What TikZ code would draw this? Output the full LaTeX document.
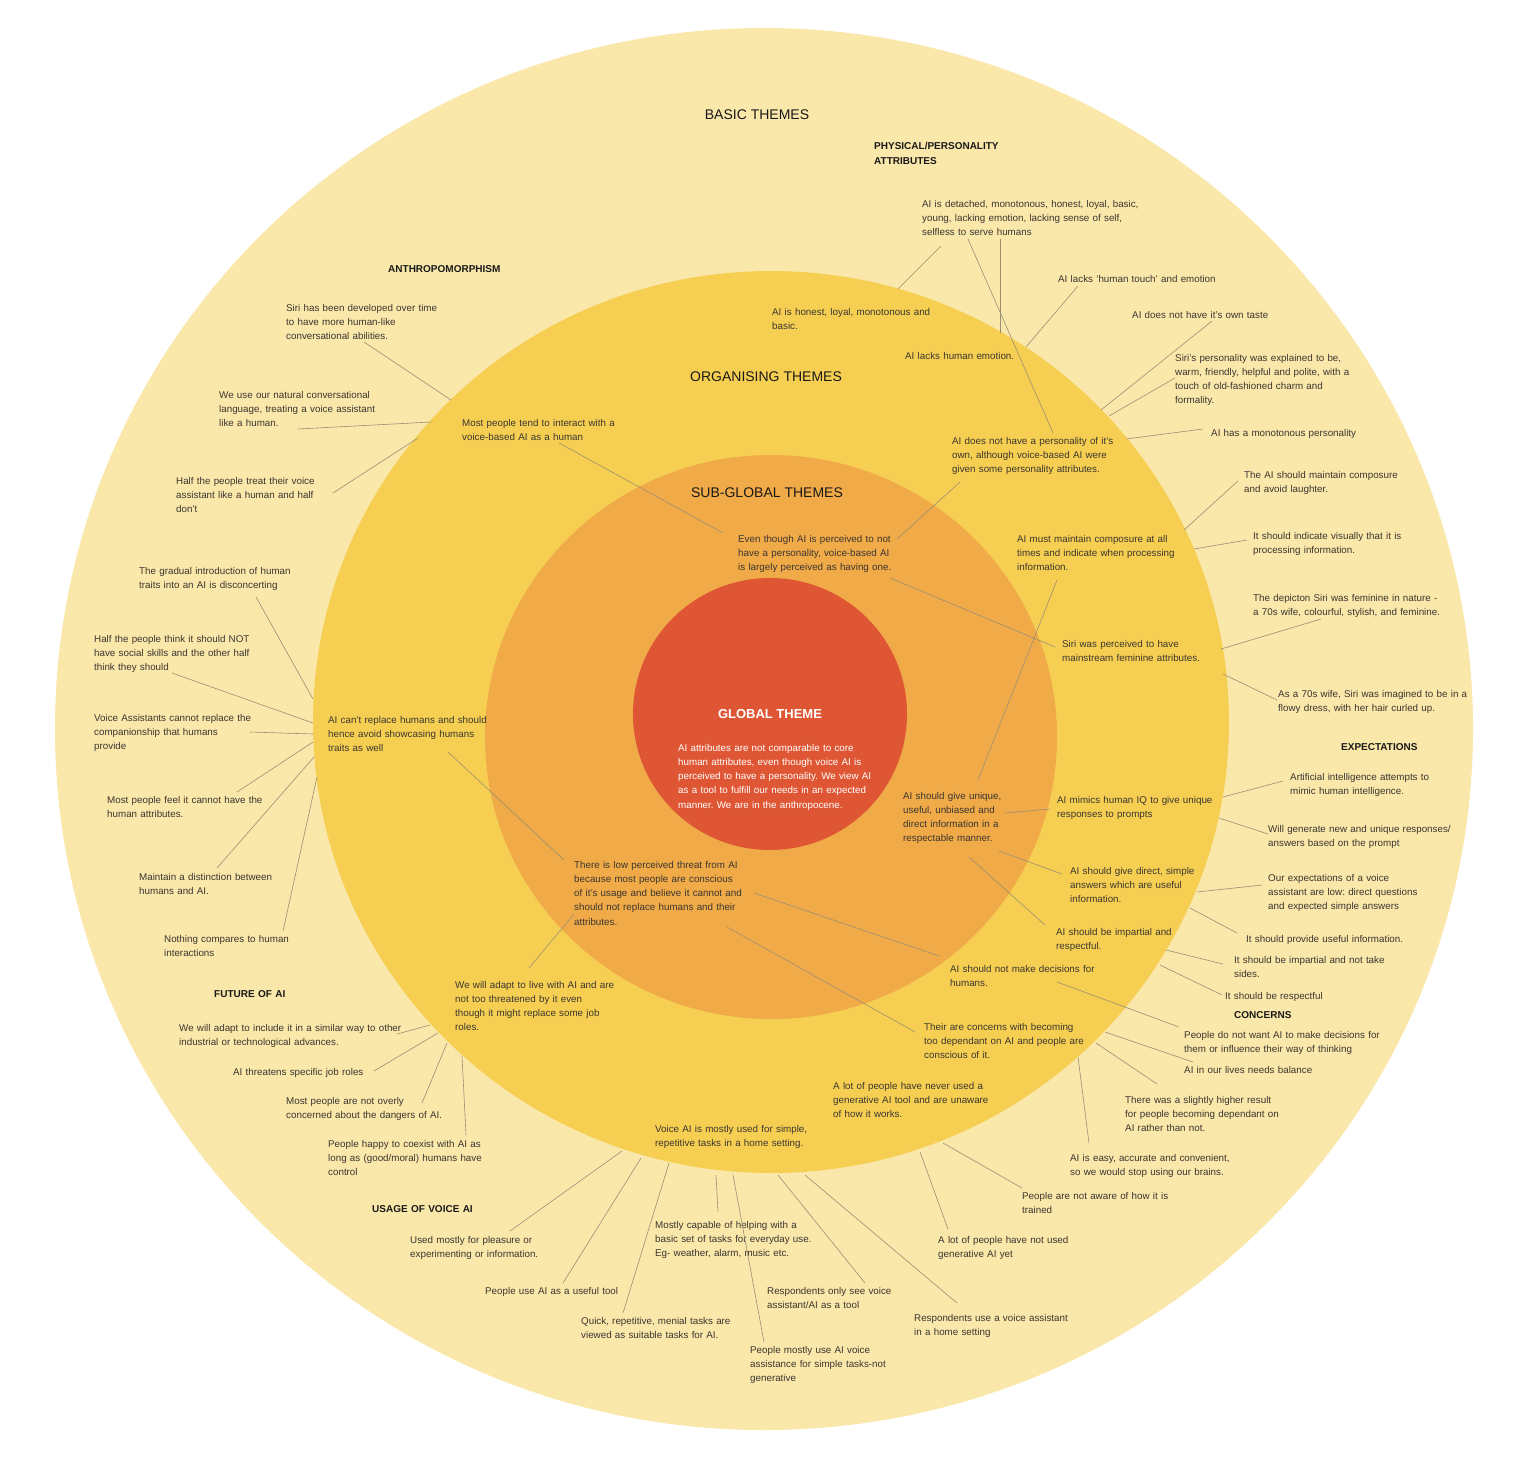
\documentclass[tikz,border=0pt]{standalone}
\usepackage{fontspec}
\setmainfont{Liberation Sans}
\usepackage{tikz}
\frenchspacing
\definecolor{ringouter}{HTML}{FAE7AA}
\definecolor{ringorg}{HTML}{F6CF52}
\definecolor{ringsub}{HTML}{F0AA48}
\definecolor{ringglobal}{HTML}{DF5634}
\definecolor{txtdark}{HTML}{3B3630}
\definecolor{linkgray}{HTML}{9A8F72}
\tikzset{
  ideatext/.style={font=\fontsize{9.8}{14.3}\selectfont, text=txtdark, text width=250pt, align=left, anchor=base west, inner sep=0pt},
  themehead/.style={font=\bfseries\fontsize{10}{15.5}\selectfont, text=black!90, text width=150pt, align=left, anchor=base west, inner sep=0pt},
  ringtitle/.style={font=\fontsize{14}{16}\selectfont, text=black!90, anchor=base, inner sep=0pt},
  link/.style={draw=linkgray, line width=0.6pt}
}
\begin{document}
\begin{tikzpicture}[x=1pt,y=-1pt]
        \useasboundingbox (0,0) rectangle (1534,1470);
        %Rings
        \fill[ringouter] (764,729) ellipse [x radius=709, y radius=701];
        \fill[ringorg] (771,722) ellipse [x radius=458, y radius=451];
        \fill[ringsub] (771,737) ellipse [x radius=286, y radius=282];
        \fill[ringglobal] (770,714) ellipse [x radius=137, y radius=136];
        %Ring titles
        \node[ringtitle] (tbasic) at (757,119) {BASIC THEMES};
        \node[ringtitle] (torg) at (766,381) {ORGANISING THEMES};
        \node[ringtitle] (tsub) at (767,497) {SUB-GLOBAL THEMES};
        \node[ringtitle, text=white, font=\bfseries\fontsize{13}{15}\selectfont] (tglobal) at (770,718) {GLOBAL THEME};
        \node[ideatext, text=white] (g) at (678,751) {AI attributes are not comparable to core\\human attributes, even though voice AI is\\perceived to have a personality. We view AI\\as a tool to fulfill our needs in an expected\\manner. We are in the anthropocene.};
        %Sub-global themes
        \node[ideatext] (s1) at (738,542) {Even though AI is perceived to not\\have a personality, voice-based AI\\is largely perceived as having one.};
        \node[ideatext] (s2) at (903,799) {AI should give unique,\\useful, unbiased and\\direct information in a\\respectable manner.};
        \node[ideatext] (s3) at (574,868) {There is low perceived threat from AI\\because most people are conscious\\of it’s usage and believe it cannot and\\should not replace humans and their\\attributes.};
        %Organising themes
        \node[ideatext] (o1) at (772,315) {AI is honest, loyal, monotonous and\\basic.};
        \node[ideatext] (o2) at (905,359) {AI lacks human emotion.};
        \node[ideatext] (o3) at (952,444) {AI does not have a personality of it’s\\own, although voice-based AI were\\given some personality attributes.};
        \node[ideatext] (o4) at (1017,542) {AI must maintain composure at all\\times and indicate when processing\\information.};
        \node[ideatext] (o5) at (1062,647) {Siri was perceived to have\\mainstream feminine attributes.};
        \node[ideatext] (o6) at (1057,803) {AI mimics human IQ to give unique\\responses to prompts};
        \node[ideatext] (o7) at (1070,874) {AI should give direct, simple\\answers which are useful\\information.};
        \node[ideatext] (o8) at (1056,935) {AI should be impartial and\\respectful.};
        \node[ideatext] (o9) at (950,972) {AI should not make decisions for\\humans.};
        \node[ideatext] (o10) at (924,1030) {Their are concerns with becoming\\too dependant on AI and people are\\conscious of it.};
        \node[ideatext] (o11) at (833,1089) {A lot of people have never used a\\generative AI tool and are unaware\\of how it works.};
        \node[ideatext] (o12) at (655,1132) {Voice AI is mostly used for simple,\\repetitive tasks in a home setting.};
        \node[ideatext] (o13) at (455,988) {We will adapt to live with AI and are\\not too threatened by it even\\though it might replace some job\\roles.};
        \node[ideatext] (o14) at (328,723) {AI can’t replace humans and should\\hence avoid showcasing humans\\traits as well};
        \node[ideatext] (o15) at (462,426) {Most people tend to interact with a\\voice-based AI as a human};
        %Theme headings
        \node[themehead] (hphys) at (874,149) {PHYSICAL/PERSONALITY\\ATTRIBUTES};
        \node[themehead] (hanth) at (388,272) {ANTHROPOMORPHISM};
        \node[themehead] (hexp) at (1341,750) {EXPECTATIONS};
        \node[themehead] (hcon) at (1234,1018) {CONCERNS};
        \node[themehead] (hfut) at (214,997) {FUTURE OF AI};
        \node[themehead] (huse) at (372,1212) {USAGE OF VOICE AI};
        %Basic themes
        \node[ideatext] (b1) at (922,207) {AI is detached, monotonous, honest, loyal, basic,\\young, lacking emotion, lacking sense of self,\\selfless to serve humans};
        \node[ideatext] (b2) at (1058,282) {AI lacks ‘human touch’ and emotion};
        \node[ideatext] (b3) at (1132,318) {AI does not have it’s own taste};
        \node[ideatext] (b4) at (1175,361) {Siri’s personality was explained to be,\\warm, friendly, helpful and polite, with a\\touch of old-fashioned charm and\\formality.};
        \node[ideatext] (b5) at (1211,436) {AI has a monotonous personality};
        \node[ideatext] (b6) at (1244,478) {The AI should maintain composure\\and avoid laughter.};
        \node[ideatext] (b7) at (1253,539) {It should indicate visually that it is\\processing information.};
        \node[ideatext] (b8) at (1253,601) {The depicton Siri was feminine in nature -\\a 70s wife, colourful, stylish, and feminine.};
        \node[ideatext] (b9) at (1278,697) {As a 70s wife, Siri was imagined to be in a\\flowy dress, with her hair curled up.};
        \node[ideatext] (b10) at (1290,780) {Artificial intelligence attempts to\\mimic human intelligence.};
        \node[ideatext] (b11) at (1268,832) {Will generate new and unique responses/\\answers based on the prompt};
        \node[ideatext] (b12) at (1268,881) {Our expectations of a voice\\assistant are low: direct questions\\and expected simple answers};
        \node[ideatext] (b13) at (1246,942) {It should provide useful information.};
        \node[ideatext] (b14) at (1234,963) {It should be impartial and not take\\sides.};
        \node[ideatext] (b15) at (1225,999) {It should be respectful};
        \node[ideatext] (b16) at (1184,1038) {People do not want AI to make decisions for\\them or influence their way of thinking};
        \node[ideatext] (b17) at (1184,1073) {AI in our lives needs balance};
        \node[ideatext] (b18) at (1125,1103) {There was a slightly higher result\\for people becoming dependant on\\AI rather than not.};
        \node[ideatext] (b19) at (1070,1161) {AI is easy, accurate and convenient,\\so we would stop using our brains.};
        \node[ideatext] (b20) at (1022,1199) {People are not aware of how it is\\trained};
        \node[ideatext] (b21) at (938,1243) {A lot of people have not used\\generative AI yet};
        \node[ideatext] (b22) at (914,1321) {Respondents use a voice assistant\\in a home setting};
        \node[ideatext] (b23) at (767,1294) {Respondents only see voice\\assistant/AI as a tool};
        \node[ideatext] (b24) at (750,1353) {People mostly use AI voice\\assistance for simple tasks-not\\generative};
        \node[ideatext] (b25) at (655,1228) {Mostly capable of helping with a\\basic set of tasks for everyday use.\\Eg- weather, alarm, music etc.};
        \node[ideatext] (b26) at (581,1324) {Quick, repetitive, menial tasks are\\viewed as suitable tasks for AI.};
        \node[ideatext] (b27) at (485,1294) {People use AI as a useful tool};
        \node[ideatext] (b28) at (410,1243) {Used mostly for pleasure or\\experimenting or information.};
        \node[ideatext] (b29) at (328,1147) {People happy to coexist with AI as\\long as (good/moral) humans have\\control};
        \node[ideatext] (b30) at (286,1104) {Most people are not overly\\concerned about the dangers of AI.};
        \node[ideatext] (b31) at (233,1075) {AI threatens specific job roles};
        \node[ideatext] (b32) at (179,1031) {We will adapt to include it in a similar way to other\\industrial or technological advances.};
        \node[ideatext] (b33) at (164,942) {Nothing compares to human\\interactions};
        \node[ideatext] (b34) at (139,880) {Maintain a distinction between\\humans and AI.};
        \node[ideatext] (b35) at (107,803) {Most people feel it cannot have the\\human attributes.};
        \node[ideatext] (b36) at (94,721) {Voice Assistants cannot replace the\\companionship that humans\\provide};
        \node[ideatext] (b37) at (94,642) {Half the people think it should NOT\\have social skills and the other half\\think they should};
        \node[ideatext] (b38) at (139,574) {The gradual introduction of human\\traits into an AI is disconcerting};
        \node[ideatext] (b39) at (176,484) {Half the people treat their voice\\assistant like a human and half\\don’t};
        \node[ideatext] (b40) at (219,398) {We use our natural conversational\\language, treating a voice assistant\\like a human.};
        \node[ideatext] (b41) at (286,311) {Siri has been developed over time\\to have more human-like\\conversational abilities.};
        %Links basic -> organising
        \draw[link] ([shift={(19,39)}]b1.base west) -- ([shift={(126,-26)}]o1.base west);
        \draw[link] ([shift={(78,32)}]b1.base west) -- ([shift={(95,-26)}]o2.base west);
        \draw[link] ([shift={(46,32)}]b1.base west) -- ([shift={(101,-11)}]o3.base west);
        \draw[link] ([shift={(20,4)}]b2.base west) -- ([shift={(121,-12)}]o2.base west);
        \draw[link] ([shift={(80,3)}]b3.base west) -- ([shift={(149,-34)}]o3.base west);
        \draw[link] ([shift={(0,17)}]b4.base west) -- ([shift={(157,-28)}]o3.base west);
        \draw[link] ([shift={(-8,-7)}]b5.base west) -- ([shift={(174,-5)}]o3.base west);
        \draw[link] ([shift={(-6,3)}]b6.base west) -- ([shift={(167,-12)}]o4.base west);
        \draw[link] ([shift={(-6,1)}]b7.base west) -- ([shift={(177,7)}]o4.base west);
        \draw[link] ([shift={(68,18)}]b8.base west) -- ([shift={(159,2)}]o5.base west);
        \draw[link] ([shift={(-1,3)}]b9.base west) -- ([shift={(161,27)}]o5.base west);
        \draw[link] ([shift={(-7,1)}]b10.base west) -- ([shift={(166,-6)}]o6.base west);
        \draw[link] ([shift={(0,2)}]b11.base west) -- ([shift={(162,15)}]o6.base west);
        \draw[link] ([shift={(-6,4)}]b12.base west) -- ([shift={(127,18)}]o7.base west);
        \draw[link] ([shift={(-9,-9)}]b13.base west) -- ([shift={(120,34)}]o7.base west);
        \draw[link] ([shift={(-11,1)}]b14.base west) -- ([shift={(110,15)}]o8.base west);
        \draw[link] ([shift={(-3,-4)}]b15.base west) -- ([shift={(104,30)}]o8.base west);
        \draw[link] ([shift={(-5,-11)}]b16.base west) -- ([shift={(107,10)}]o9.base west);
        \draw[link] ([shift={(9,-11)}]b17.base west) -- ([shift={(181,2)}]o10.base west);
        \draw[link] ([shift={(32,-19)}]b18.base west) -- ([shift={(172,13)}]o10.base west);
        \draw[link] ([shift={(19,-18)}]b19.base west) -- ([shift={(154,27)}]o10.base west);
        \draw[link] ([shift={(0,-11)}]b20.base west) -- ([shift={(110,54)}]o11.base west);
        \draw[link] ([shift={(10,-14)}]b21.base west) -- ([shift={(87,63)}]o11.base west);
        \draw[link] ([shift={(43,-18)}]b22.base west) -- ([shift={(150,43)}]o12.base west);
        \draw[link] ([shift={(98,-11)}]b23.base west) -- ([shift={(123,43)}]o12.base west);
        \draw[link] ([shift={(14,-11)}]b24.base west) -- ([shift={(78,43)}]o12.base west);
        \draw[link] ([shift={(63,-16)}]b25.base west) -- ([shift={(61,43)}]o12.base west);
        \draw[link] ([shift={(42,-11)}]b26.base west) -- ([shift={(14,31)}]o12.base west);
        \draw[link] ([shift={(78,-11)}]b27.base west) -- ([shift={(-14,26)}]o12.base west);
        \draw[link] ([shift={(100,-12)}]b28.base west) -- ([shift={(-33,19)}]o12.base west);
        \draw[link] ([shift={(138,-12)}]b29.base west) -- ([shift={(7,68)}]o13.base west);
        \draw[link] ([shift={(136,-1)}]b30.base west) -- ([shift={(-8,55)}]o13.base west);
        \draw[link] ([shift={(141,-4)}]b31.base west) -- ([shift={(-17,45)}]o13.base west);
        \draw[link] ([shift={(218,3)}]b32.base west) -- ([shift={(-25,37)}]o13.base west);
        \draw[link] ([shift={(119,-11)}]b33.base west) -- ([shift={(-11,54)}]o14.base west);
        \draw[link] ([shift={(78,-12)}]b34.base west) -- ([shift={(-14,34)}]o14.base west);
        \draw[link] ([shift={(130,-11)}]b35.base west) -- ([shift={(-15,19)}]o14.base west);
        \draw[link] ([shift={(156,11)}]b36.base west) -- ([shift={(-15,11)}]o14.base west);
        \draw[link] ([shift={(78,31)}]b37.base west) -- ([shift={(-15,0)}]o14.base west);
        \draw[link] ([shift={(117,23)}]b38.base west) -- ([shift={(-15,-24)}]o14.base west);
        \draw[link] ([shift={(157,9)}]b39.base west) -- ([shift={(-44,12)}]o15.base west);
        \draw[link] ([shift={(79,31)}]b40.base west) -- ([shift={(-31,-4)}]o15.base west);
        \draw[link] ([shift={(78,31)}]b41.base west) -- ([shift={(-11,-26)}]o15.base west);
        %Links organising -> sub-global
        \draw[link] ([shift={(97,17)}]o15.base west) -- ([shift={(-15,-9)}]s1.base west);
        \draw[link] ([shift={(8,38)}]o3.base west) -- ([shift={(159,-3)}]s1.base west);
        \draw[link] ([shift={(152,36)}]s1.base west) -- ([shift={(-7,0)}]o5.base west);
        \draw[link] ([shift={(40,38)}]o4.base west) -- ([shift={(75,-19)}]s2.base west);
        \draw[link] ([shift={(-7,6)}]o6.base west) -- ([shift={(102,14)}]s2.base west);
        \draw[link] ([shift={(96,52)}]s2.base west) -- ([shift={(-8,0)}]o7.base west);
        \draw[link] ([shift={(66,58)}]s2.base west) -- ([shift={(-11,-10)}]o8.base west);
        \draw[link] ([shift={(120,29)}]o14.base west) -- ([shift={(-10,-8)}]s3.base west);
        \draw[link] ([shift={(74,-20)}]o13.base west) -- ([shift={(0,46)}]s3.base west);
        \draw[link] ([shift={(180,25)}]s3.base west) -- ([shift={(-11,-16)}]o9.base west);
        \draw[link] ([shift={(153,59)}]s3.base west) -- ([shift={(-9,2)}]o10.base west);
\end{tikzpicture}
\end{document}
